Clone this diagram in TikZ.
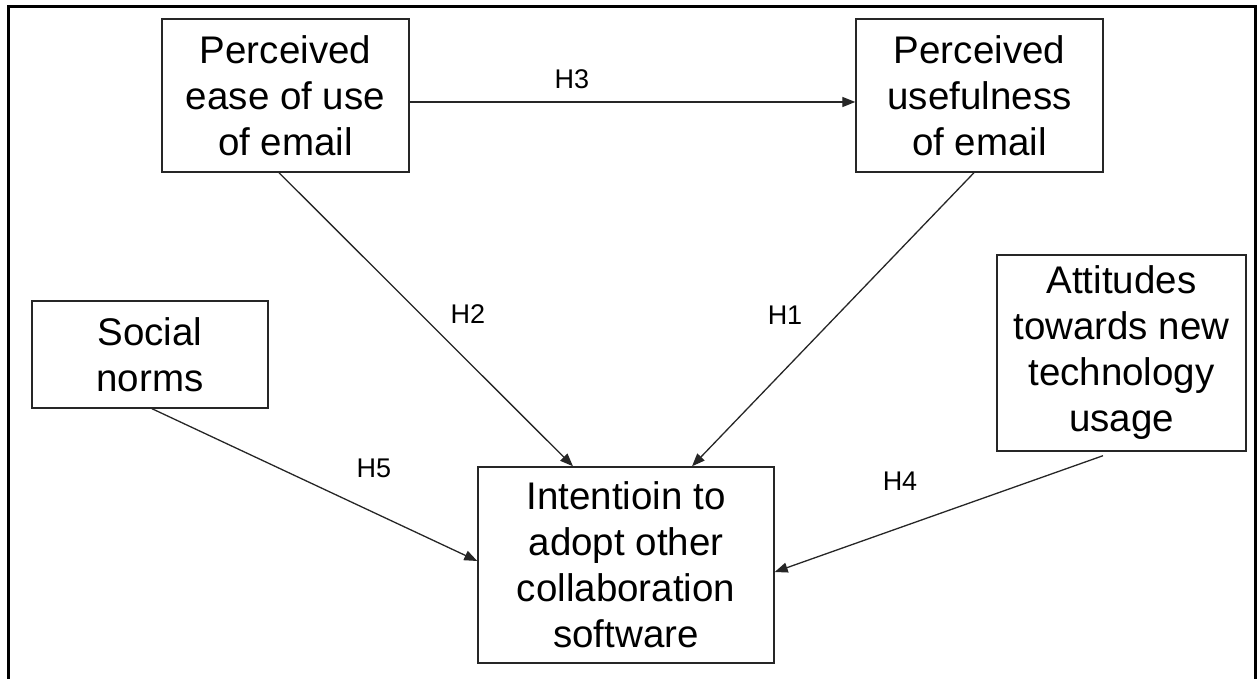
\documentclass[tikz,border=0pt]{standalone}
\usepackage{fontspec}
\setmainfont{Liberation Sans}
\usetikzlibrary{arrows.meta}
\begin{document}
\begin{tikzpicture}[x=1pt,y=-1pt,
  concept/.style={draw=black!85, line width=1.4pt, align=center, inner sep=0pt,
    font=\fontsize{38.5}{46}\selectfont},
  link/.style={draw=black!85, line width=1.3pt, -{Triangle[length=13pt,width=10pt]}},
  hyp/.style={font=\fontsize{27}{30}\selectfont, inner sep=0pt}]
  \useasboundingbox (0,0) rectangle (1258,679);
  % open outer frame
  \draw[line width=3pt] (8.5,679) -- (8.5,6.5) -- (1255.5,6.5) -- (1255.5,679);

  \node[concept, minimum width=247pt, minimum height=153pt] (peou) at (285.5,95.5)
    {Perceived\\ease of use\\of email};
  \node[concept, minimum width=247pt, minimum height=153pt] (pu) at (979.5,95.5)
    {Perceived\\usefulness\\of email};
  \node[concept, minimum width=296pt, minimum height=196pt] (int) at (626,565)
    {Intentioin to\\adopt other\\collaboration\\software};
  \node[concept, minimum width=236pt, minimum height=107pt] (sn) at (150,354.5)
    {Social\\norms};
  \node[concept, minimum width=249pt, minimum height=196pt] (att) at (1121.5,353)
    {Attitudes\\towards new\\technology\\usage};

  \coordinate (attout) at ([xshift=-18.5pt,yshift=-4pt]att.south);

  \draw[link] ([yshift=-6.5pt]peou.east) -- ([yshift=-6.5pt]pu.west);
  \draw[link] ([xshift=-6.5pt]peou.south) -- ([xshift=-53pt]int.north);
  \draw[link] ([xshift=-5.5pt]pu.south) -- ([xshift=66pt]int.north);
  \draw[link] ([xshift=2pt]sn.south) -- ([yshift=4pt]int.west);
  \draw[link] (attout) -- ([yshift=-7pt]int.east);

  \node[hyp] (h3) at (572,79) {H3};
  \node[hyp] (h2) at (468,314) {H2};
  \node[hyp] (h1) at (785,315) {H1};
  \node[hyp] (h5) at (374,468) {H5};
  \node[hyp] (h4) at (900,481) {H4};
\end{tikzpicture}
\end{document}
